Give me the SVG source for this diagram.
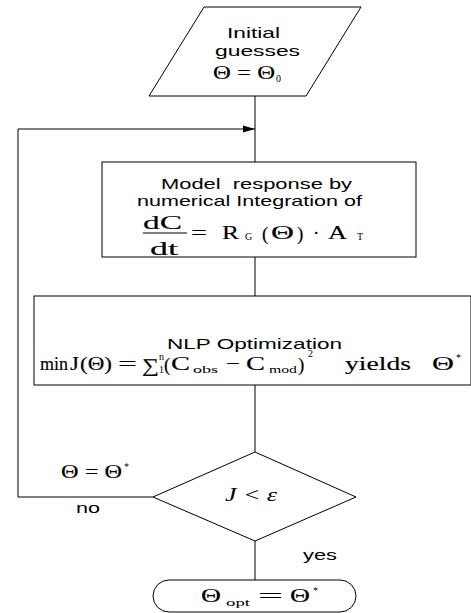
<svg xmlns="http://www.w3.org/2000/svg" width="471" height="613" viewBox="0 0 471 613">
<style>
.shape{fill:#fff;stroke:#000;stroke-width:1}
.line{fill:none;stroke:#000;stroke-width:1}
.lbl{font-family:"Liberation Sans",Arial,sans-serif;font-size:15px;fill:#000}
.m{font-family:"Liberation Serif","Times New Roman",serif;font-size:19px;fill:#000;stroke:#000;stroke-width:0.15}
.s{font-family:"Liberation Serif","Times New Roman",serif;font-size:10px;fill:#000}
.it{font-family:"Liberation Serif","Times New Roman",serif;font-style:italic;font-size:18px;fill:#000}
</style>
<defs>
<marker id="ah" markerWidth="12" markerHeight="8" refX="12" refY="4" orient="auto" markerUnits="userSpaceOnUse"><path d="M0,0.5 L12,4 L0,7.5 Z" fill="#000"/></marker>
</defs>
<g id="connectors">
<line class="line" x1="255" y1="96" x2="255" y2="162"/>
<line class="line" x1="255" y1="257" x2="255" y2="296"/>
<line class="line" x1="255" y1="385" x2="255" y2="452"/>
<line class="line" x1="255" y1="541" x2="255" y2="580"/>
<path class="line" d="M153,497 H18 V129 H255" marker-end="url(#ah)"/>
<text class="m" x="61" y="478" textLength="61" lengthAdjust="spacingAndGlyphs">Θ = Θ</text>
<text class="s" x="124" y="470">*</text>
<text class="lbl" x="76" y="513" textLength="24" lengthAdjust="spacingAndGlyphs">no</text>
<text class="lbl" x="303" y="560" textLength="34" lengthAdjust="spacingAndGlyphs">yes</text>
</g>
<g id="start">
<polygon class="shape" points="204,7 361,7 306,96 149,96"/>
<text class="lbl" x="227" y="38" textLength="53" lengthAdjust="spacingAndGlyphs">Initial</text>
<text class="lbl" x="215" y="56" textLength="85" lengthAdjust="spacingAndGlyphs">guesses</text>
<text class="m" x="213" y="79" textLength="62" lengthAdjust="spacingAndGlyphs">Θ = Θ</text>
<text class="s" x="276" y="82">0</text>
</g>
<g id="model">
<rect class="shape" x="102" y="162" width="314" height="95"/>
<text class="lbl" x="161" y="189" textLength="191" lengthAdjust="spacingAndGlyphs" xml:space="preserve">Model  response by</text>
<text class="lbl" x="137" y="206" textLength="225" lengthAdjust="spacingAndGlyphs">numerical Integration of</text>
<text class="m" x="143" y="229" textLength="39" lengthAdjust="spacingAndGlyphs">dC</text>
<line class="line" x1="143" y1="233" x2="187" y2="233"/>
<text class="m" x="150" y="255" textLength="28" lengthAdjust="spacingAndGlyphs">dt</text>
<text class="m" x="191" y="239" textLength="16" lengthAdjust="spacingAndGlyphs">=</text>
<text class="m" x="222" y="239" textLength="17" lengthAdjust="spacingAndGlyphs">R</text>
<text class="s" x="245" y="240" font-size="7">G</text>
<text class="m" x="262" y="240" font-size="22">(</text>
<text class="m" x="271" y="239" textLength="23" lengthAdjust="spacingAndGlyphs">Θ</text>
<text class="m" x="297" y="240" font-size="22">)</text>
<text class="m" x="313" y="239">·</text>
<text class="m" x="328" y="239" textLength="19" lengthAdjust="spacingAndGlyphs">A</text>
<text class="s" x="357" y="240" font-size="7">T</text>
</g>
<g id="nlp">
<rect class="shape" x="34" y="296" width="437" height="89"/>
<text class="lbl" x="167" y="349" textLength="175" lengthAdjust="spacingAndGlyphs">NLP Optimization</text>
<text class="m" x="40" y="370" textLength="28" lengthAdjust="spacingAndGlyphs">min</text>
<text class="m" x="70" y="370" textLength="9" lengthAdjust="spacingAndGlyphs">J</text>
<text class="m" x="80" y="370" textLength="32" lengthAdjust="spacingAndGlyphs">(Θ)</text>
<text class="m" x="118" y="370" textLength="19" lengthAdjust="spacingAndGlyphs">=</text>
<text class="m" x="142" y="372" font-size="22" textLength="17" lengthAdjust="spacingAndGlyphs">∑</text>
<text class="s" x="159" y="360" font-size="9">n</text>
<text class="s" x="159" y="373" font-size="9">1</text>
<text class="m" x="164" y="371" font-size="22">(</text>
<text class="m" x="171" y="370" textLength="19" lengthAdjust="spacingAndGlyphs">C</text>
<text class="s" x="193" y="373" font-size="9" textLength="25" lengthAdjust="spacingAndGlyphs">obs</text>
<text class="m" x="226" y="370" textLength="14" lengthAdjust="spacingAndGlyphs">−</text>
<text class="m" x="246" y="370" textLength="19" lengthAdjust="spacingAndGlyphs">C</text>
<text class="s" x="269" y="373" font-size="9" textLength="28" lengthAdjust="spacingAndGlyphs">mod</text>
<text class="m" x="298" y="371" font-size="22">)</text>
<text class="s" x="308" y="357">2</text>
<text class="m" x="345" y="370" textLength="66" lengthAdjust="spacingAndGlyphs">yields</text>
<text class="m" x="432" y="370" textLength="22" lengthAdjust="spacingAndGlyphs">Θ</text>
<text class="s" x="456" y="361">*</text>
</g>
<g id="decision">
<polygon class="shape" points="255,452 356,497 255,541 153,497"/>
<text class="it" x="225" y="501" textLength="52" lengthAdjust="spacingAndGlyphs">J &lt; ε</text>
</g>
<g id="end">
<rect class="shape" x="153" y="580" width="203" height="32" rx="16" ry="16"/>
<text class="m" x="201" y="602" textLength="20" lengthAdjust="spacingAndGlyphs">Θ</text>
<text class="s" x="226" y="606" textLength="24" lengthAdjust="spacingAndGlyphs">opt</text>
<text class="m" x="258" y="602" textLength="25" lengthAdjust="spacingAndGlyphs">=</text>
<text class="m" x="290" y="602" textLength="20" lengthAdjust="spacingAndGlyphs">Θ</text>
<text class="s" x="313" y="594">*</text>
</g>
</svg>
